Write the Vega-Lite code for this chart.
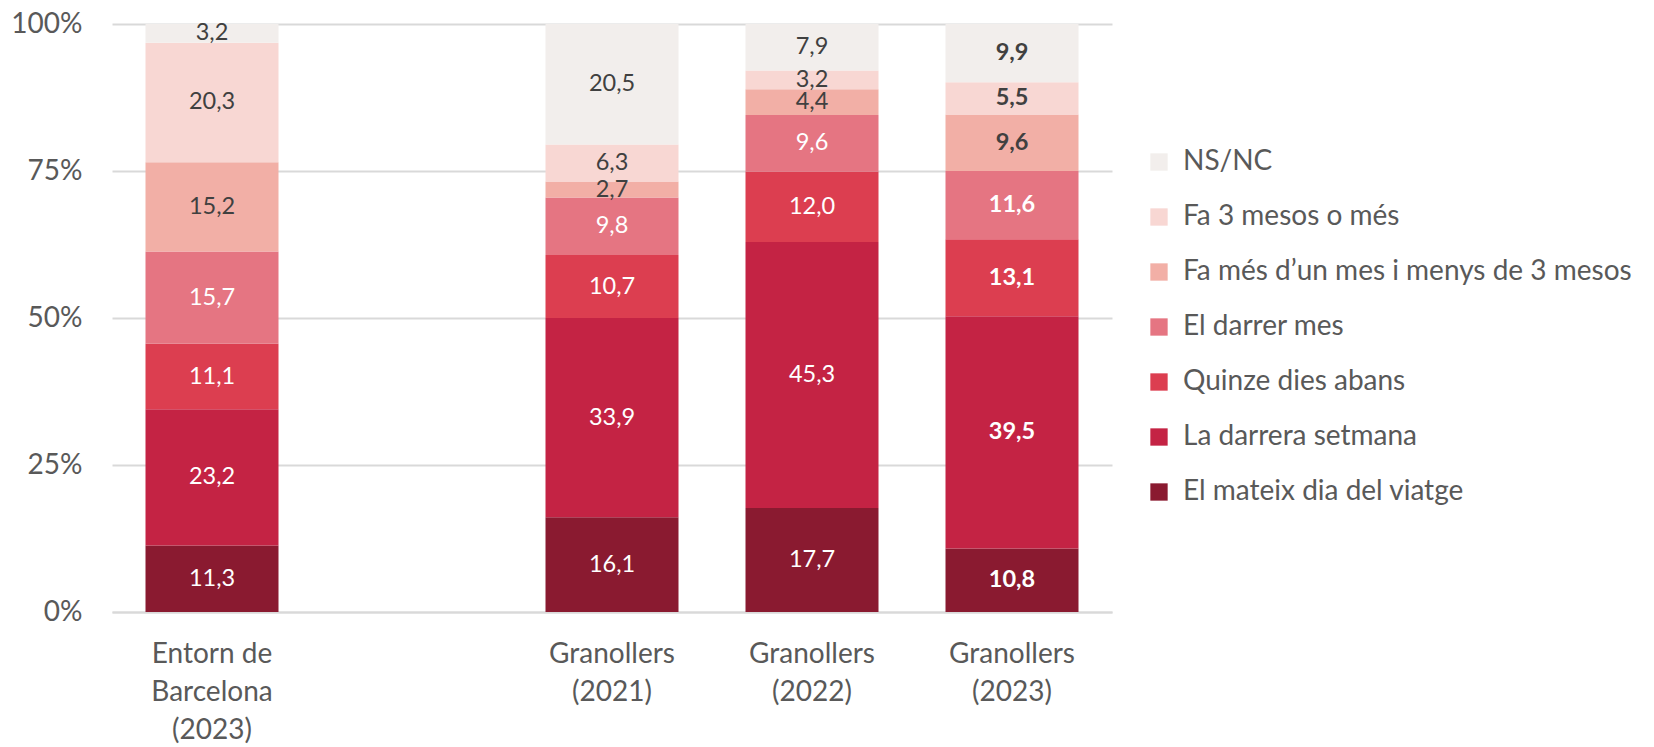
{
  "$schema": "https://vega.github.io/schema/vega-lite/v6.json",
  "width": 1000,
  "height": 588,
  "autosize": "none",
  "padding": {"left": 112, "top": 24, "right": 542, "bottom": 135},
  "background": "white",
  "config": {
    "view": {"stroke": null},
    "font": "Lato",
    "locale": {"number": {"decimal": ",", "thousands": ".", "grouping": [3], "currency": ["", " €"]}}
  },
  "data": {
    "values": [
      {"cat": "Entorn de Barcelona (2023)", "s": "El mateix dia del viatge", "v": 11.3},
      {"cat": "Entorn de Barcelona (2023)", "s": "La darrera setmana", "v": 23.2},
      {"cat": "Entorn de Barcelona (2023)", "s": "Quinze dies abans", "v": 11.1},
      {"cat": "Entorn de Barcelona (2023)", "s": "El darrer mes", "v": 15.7},
      {"cat": "Entorn de Barcelona (2023)", "s": "Fa més d’un mes i menys de 3 mesos", "v": 15.2},
      {"cat": "Entorn de Barcelona (2023)", "s": "Fa 3 mesos o més", "v": 20.3},
      {"cat": "Entorn de Barcelona (2023)", "s": "NS/NC", "v": 3.2},
      {"cat": "Granollers (2021)", "s": "El mateix dia del viatge", "v": 16.1},
      {"cat": "Granollers (2021)", "s": "La darrera setmana", "v": 33.9},
      {"cat": "Granollers (2021)", "s": "Quinze dies abans", "v": 10.7},
      {"cat": "Granollers (2021)", "s": "El darrer mes", "v": 9.8},
      {"cat": "Granollers (2021)", "s": "Fa més d’un mes i menys de 3 mesos", "v": 2.7},
      {"cat": "Granollers (2021)", "s": "Fa 3 mesos o més", "v": 6.3},
      {"cat": "Granollers (2021)", "s": "NS/NC", "v": 20.5},
      {"cat": "Granollers (2022)", "s": "El mateix dia del viatge", "v": 17.7},
      {"cat": "Granollers (2022)", "s": "La darrera setmana", "v": 45.3},
      {"cat": "Granollers (2022)", "s": "Quinze dies abans", "v": 12.0},
      {"cat": "Granollers (2022)", "s": "El darrer mes", "v": 9.6},
      {"cat": "Granollers (2022)", "s": "Fa més d’un mes i menys de 3 mesos", "v": 4.4},
      {"cat": "Granollers (2022)", "s": "Fa 3 mesos o més", "v": 3.2},
      {"cat": "Granollers (2022)", "s": "NS/NC", "v": 7.9},
      {"cat": "Granollers (2023)", "s": "El mateix dia del viatge", "v": 10.8},
      {"cat": "Granollers (2023)", "s": "La darrera setmana", "v": 39.5},
      {"cat": "Granollers (2023)", "s": "Quinze dies abans", "v": 13.1},
      {"cat": "Granollers (2023)", "s": "El darrer mes", "v": 11.6},
      {"cat": "Granollers (2023)", "s": "Fa més d’un mes i menys de 3 mesos", "v": 9.6},
      {"cat": "Granollers (2023)", "s": "Fa 3 mesos o més", "v": 5.5},
      {"cat": "Granollers (2023)", "s": "NS/NC", "v": 9.9}
    ]
  },
  "transform": [
    {"calculate": "indexof(['El mateix dia del viatge','La darrera setmana','Quinze dies abans','El darrer mes','Fa més d’un mes i menys de 3 mesos','Fa 3 mesos o més','NS/NC'], datum.s)", "as": "ord"},
    {"stack": "v", "groupby": ["cat"], "sort": [{"field": "ord", "order": "ascending"}], "offset": "normalize", "as": ["y0", "y1"]},
    {"calculate": "(datum.y0 + datum.y1) / 2", "as": "ym"}
  ],
  "encoding": {
    "x": {
      "field": "cat",
      "type": "nominal",
      "scale": {
        "domain": ["Entorn de Barcelona (2023)", "gap", "Granollers (2021)", "Granollers (2022)", "Granollers (2023)"],
        "paddingInner": 0.335,
        "paddingOuter": 0.1675
      },
      "axis": {
        "title": null,
        "labelAngle": 0,
        "ticks": false,
        "domainColor": "#D9D9D9",
        "domainWidth": 2,
        "labelFontSize": 28,
        "labelColor": "#595959",
        "labelPadding": 42,
        "labelLineHeight": 38,
        "labelBaseline": "middle",
        "labelExpr": "datum.label == 'gap' ? '' : (datum.label == 'Entorn de Barcelona (2023)' ? ['Entorn de', 'Barcelona', '(2023)'] : split(datum.label, ' '))"
      }
    }
  },
  "layer": [
    {
      "mark": {"type": "bar"},
      "encoding": {
        "y": {
          "field": "y0",
          "type": "quantitative",
          "scale": {"domain": [0, 1]},
          "axis": {
            "title": null,
            "values": [0, 0.25, 0.5, 0.75, 1],
            "format": ".0%",
            "domain": false,
            "ticks": false,
            "gridColor": "#D9D9D9",
            "gridWidth": 2,
            "labelFontSize": 28,
            "labelColor": "#595959",
            "labelPadding": 30
          }
        },
        "y2": {"field": "y1"},
        "color": {
          "field": "s",
          "type": "nominal",
          "scale": {
            "domain": ["NS/NC", "Fa 3 mesos o més", "Fa més d’un mes i menys de 3 mesos", "El darrer mes", "Quinze dies abans", "La darrera setmana", "El mateix dia del viatge"],
            "range": ["#F2EEEC", "#F8D7D3", "#F2AFA6", "#E57582", "#DC3E50", "#C42344", "#8A1A30"]
          },
          "legend": {
            "title": null,
            "orient": "none",
            "legendX": 1033,
            "legendY": 124,
            "symbolType": "square",
            "symbolSize": 300,
            "symbolStrokeWidth": 0,
            "labelFontSize": 28,
            "labelColor": "#595959",
            "labelOffset": 10,
            "rowPadding": 27,
            "labelLimit": 600
          }
        }
      }
    },
    {
      "transform": [{"filter": "datum.cat != 'Granollers (2023)'"}],
      "mark": {"type": "text", "fontSize": 23.5, "baseline": "middle", "align": "center"},
      "encoding": {
        "y": {"field": "ym", "type": "quantitative"},
        "text": {"field": "v", "type": "quantitative", "format": ".1f"},
        "color": {
          "condition": {"test": "indexof(['NS/NC','Fa 3 mesos o més','Fa més d’un mes i menys de 3 mesos'], datum.s) >= 0", "value": "#404040"},
          "value": "white"
        }
      }
    },
    {
      "transform": [{"filter": "datum.cat == 'Granollers (2023)'"}],
      "mark": {"type": "text", "fontSize": 23.5, "fontWeight": "bold", "baseline": "middle", "align": "center"},
      "encoding": {
        "y": {"field": "ym", "type": "quantitative"},
        "text": {"field": "v", "type": "quantitative", "format": ".1f"},
        "color": {
          "condition": {"test": "indexof(['NS/NC','Fa 3 mesos o més','Fa més d’un mes i menys de 3 mesos'], datum.s) >= 0", "value": "#404040"},
          "value": "white"
        }
      }
    }
  ]
}
